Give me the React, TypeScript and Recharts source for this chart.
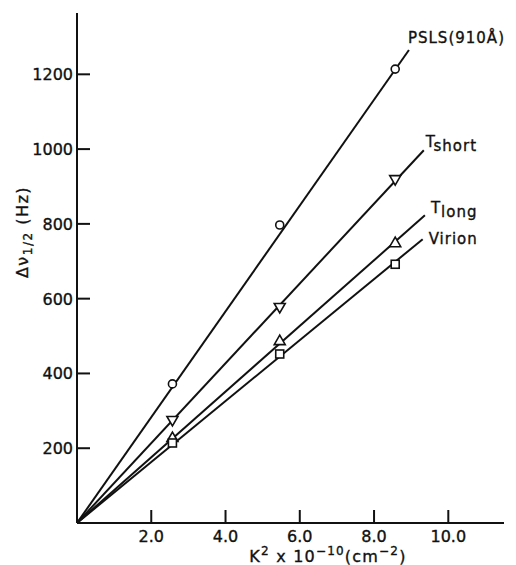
import React from 'react';
import { ComposedChart, Scatter, XAxis, YAxis, Label } from 'recharts';

const K2_VALUES = [2.57, 5.46, 8.57];
const PSLS = [372, 797, 1214];
const T_SHORT = [273, 575, 917];
const T_LONG = [230, 489, 751];
const VIRION = [214, 452, 692];

// 원점에서 그린 직선의 끝점
const LINE_END_K2 = [8.94, 9.34, 9.37, 9.31];
const LINE_END_WIDTH = [1265, 997, 823, 759];

const X_TICKS = [2, 4, 6, 8, 10];
const Y_TICKS = [200, 400, 600, 800, 1000, 1200];

const FONT = '"DejaVu Sans", sans-serif';
const INK = '#111';
// 글자를 살짝 굵게 보이게 하는 외곽선
const TEXT_STYLE = { fontFamily: FONT, fill: INK, stroke: INK, strokeWidth: 0.35 };

type MarkerKind = 'circle' | 'down' | 'up' | 'square';

const SERIES: { values: number[]; marker: MarkerKind; main: string; sub: string; dx: number; dy: number }[] = [
  { values: PSLS, marker: 'circle', main: 'PSLS(910Å)', sub: '', dx: -1, dy: -7 },
  { values: T_SHORT, marker: 'down', main: 'T', sub: 'short', dx: 2, dy: -3 },
  { values: T_LONG, marker: 'up', main: 'T', sub: 'long', dx: 6, dy: -2 },
  { values: VIRION, marker: 'square', main: 'Virion', sub: '', dx: 6, dy: 5 },
];

function Marker({ cx, cy, kind }: { cx: number; cy: number; kind: MarkerKind }) {
  const s = { fill: '#fff', stroke: INK, strokeWidth: 1.6 };
  if (kind === 'circle') return <circle cx={cx} cy={cy} r={4} {...s} />;
  if (kind === 'down') return <path d={`M${cx - 5.5},${cy - 4.5}L${cx + 5.5},${cy - 4.5}L${cx},${cy + 5}Z`} {...s} />;
  if (kind === 'up') return <path d={`M${cx - 5.5},${cy + 4.5}L${cx + 5.5},${cy + 4.5}L${cx},${cy - 5}Z`} {...s} />;
  return <rect x={cx - 4} y={cy - 4} width={8} height={8} {...s} />;
}

function YTick({ x, y, payload }: any) {
  return (
    <g>
      <line x1={x} x2={x + 13} y1={y} y2={y} stroke={INK} strokeWidth={2} />
      <text x={x - 4} y={y} dy={6} textAnchor="end" fontSize={16} {...TEXT_STYLE}>
        {payload.value}
      </text>
    </g>
  );
}

function XTick({ x, y, payload }: any) {
  return (
    <g>
      <line x1={x} x2={x} y1={y} y2={y - 13} stroke={INK} strokeWidth={2} />
      <text x={x} y={y + 19} textAnchor="middle" fontSize={16} {...TEXT_STYLE}>
        {payload.value.toFixed(1)}
      </text>
    </g>
  );
}

export default function App() {
  return (
    <div style={{ position: 'absolute', left: 0, top: 0, background: '#fff' }}>
      <ComposedChart width={516} height={565} margin={{ top: 13, right: 12, left: 0, bottom: 12 }}>
        <XAxis
          type="number"
          dataKey="x"
          domain={[0, 11.5]}
          ticks={X_TICKS}
          interval={0}
          tickSize={0}
          tickMargin={0}
          tick={<XTick />}
          height={30}
          axisLine={{ stroke: INK, strokeWidth: 2 }}
          allowDataOverflow
        >
          <Label
            content={({ viewBox }: any) => (
              <text x={viewBox.x + 251} y={viewBox.y + 39} textAnchor="middle" fontSize={16} letterSpacing={1.2} {...TEXT_STYLE}>
                K<tspan dy={-7} fontSize={12}>2</tspan>
                <tspan dy={7}> x 10</tspan>
                <tspan dy={-7} fontSize={12}>−10</tspan>
                <tspan dy={7}>(cm</tspan>
                <tspan dy={-7} fontSize={12}>−2</tspan>
                <tspan dy={7}>)</tspan>
              </text>
            )}
          />
        </XAxis>
        <YAxis
          type="number"
          dataKey="y"
          domain={[0, 1364]}
          ticks={Y_TICKS}
          interval={0}
          tickSize={0}
          tickMargin={0}
          tick={<YTick />}
          width={77}
          axisLine={{ stroke: INK, strokeWidth: 2 }}
          allowDataOverflow
        >
          <Label
            content={({ viewBox }: any) => {
              const cx = viewBox.x + 28;
              const cy = viewBox.y + 219;
              return (
                <text x={cx} y={cy} transform={`rotate(-90, ${cx}, ${cy})`} textAnchor="middle" fontSize={16} letterSpacing={1.5} {...TEXT_STYLE}>
                  Δν<tspan dy={4} fontSize={12}>1/2</tspan>
                  <tspan dy={-4}> (Hz)</tspan>
                </text>
              );
            }}
          />
        </YAxis>

        {SERIES.map((s, i) => (
          <Scatter
            key={`line-${i}`}
            data={[
              { x: 0, y: 0 },
              { x: LINE_END_K2[i], y: LINE_END_WIDTH[i] },
            ]}
            line={{ stroke: INK, strokeWidth: 2 }}
            stroke={INK}
            fill={INK}
            isAnimationActive={false}
            shape={(p: any) =>
              p.payload.x > 0 ? (
                <text x={p.cx + s.dx} y={p.cy + s.dy} fontSize={15} letterSpacing={1} {...TEXT_STYLE}>
                  {s.main}
                  {s.sub ? <tspan dy={4}>{s.sub}</tspan> : null}
                </text>
              ) : (
                <g />
              )
            }
          />
        ))}

        {SERIES.map((s, i) => (
          <Scatter
            key={`pts-${i}`}
            data={K2_VALUES.map((k, j) => ({ x: k, y: s.values[j] }))}
            isAnimationActive={false}
            shape={(p: any) => <Marker cx={p.cx} cy={p.cy} kind={s.marker} />}
          />
        ))}
      </ComposedChart>
    </div>
  );
}
